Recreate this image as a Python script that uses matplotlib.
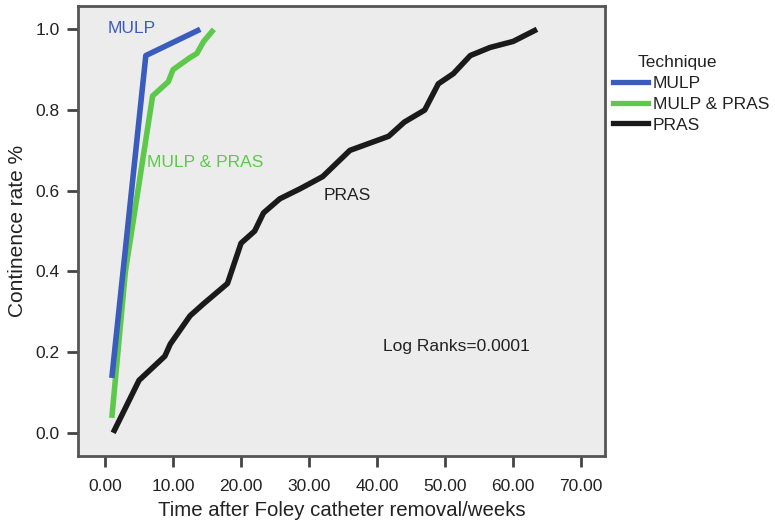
import matplotlib
matplotlib.use("Agg")
import matplotlib.pyplot as plt
from matplotlib.lines import Line2D

plt.rcParams['font.family'] = ['Liberation Sans', 'DejaVu Sans']

# Data
mulp_x = [1, 6, 14]
mulp_y = [0.136, 0.935, 1.0]

mp_x = [1, 3, 7, 9.3, 10, 12.5, 13.5, 14.5, 16]
mp_y = [0.037, 0.40, 0.835, 0.87, 0.90, 0.93, 0.94, 0.97, 1.0]

pras_x = [1.2, 5, 8.8, 9.6, 12.5, 14.5, 18, 20, 22, 23.3, 25.7, 28.7, 32,
          36, 41.7, 44, 47, 49, 51.2, 53.7, 56.6, 60, 63.5]
pras_y = [0.0, 0.13, 0.19, 0.22, 0.29, 0.32, 0.37, 0.47, 0.50, 0.545, 0.58,
          0.605, 0.635, 0.70, 0.735, 0.77, 0.80, 0.865, 0.89, 0.935, 0.955,
          0.97, 1.0]

series_names = ["MULP", "MULP & PRAS", "PRAS"]
colors = ["#3a5cbd", "#5dc94b", "#1a1a1a"]
xticks = [0, 10, 20, 30, 40, 50, 60, 70]
yticks = [0.0, 0.2, 0.4, 0.6, 0.8, 1.0]

fig = plt.figure(figsize=(7.75, 5.27), dpi=100)
ax = fig.add_axes([78/775, 1 - 456/527, (605-78)/775, (456-6)/527])
ax.set_facecolor("#ececec")

lw = 4.0
ax.plot(pras_x, pras_y, color=colors[2], lw=lw, solid_capstyle='butt')
ax.plot(mp_x, mp_y, color=colors[1], lw=lw, solid_capstyle='butt')
ax.plot(mulp_x, mulp_y, color=colors[0], lw=lw, solid_capstyle='butt')

ax.set_xlim(-3.97, 73.5)
ax.set_ylim(-0.0575, 1.0578)
ax.set_xticks(xticks)
ax.set_xticklabels([f"{v:.2f}" for v in xticks])
ax.set_yticks(yticks)
ax.set_yticklabels([f"{v:.1f}" for v in yticks])

for s in ax.spines.values():
    s.set_color("#555555")
    s.set_linewidth(2)

ax.tick_params(direction='out', length=8, width=2, color="#444444",
               labelsize=12.5, labelcolor="#222222")
ax.xaxis.set_tick_params(pad=8.5)
ax.yaxis.set_tick_params(pad=5)

ax.set_xlabel("Time after Foley catheter removal/weeks", fontsize=14.7,
              color="#222222", labelpad=5)
ax.set_ylabel("Continence rate %", fontsize=15, color="#222222", labelpad=6)

ann = 12.5
ax.text(0.45, 1.003, "MULP", color=colors[0], fontsize=ann, ha='left', va='center')
ax.text(6.2, 0.669, "MULP & PRAS", color=colors[1], fontsize=ann, ha='left', va='center')
ax.text(32.1, 0.587, "PRAS", color="#222222", fontsize=ann, ha='left', va='center')
ax.text(40.9, 0.213, "Log Ranks=0.0001", color="#222222", fontsize=ann, ha='left', va='center')

handles = [Line2D([0], [0], color=c, lw=3.8) for c in colors]
leg = fig.legend(handles, series_names, loc='upper left',
                 bbox_to_anchor=(613/775, 1 - 76/527), frameon=False,
                 fontsize=12.5, handlelength=2.0,
                 handletextpad=0.3, labelspacing=0.32, borderaxespad=0,
                 borderpad=0)
for t in leg.get_texts():
    t.set_color("#222222")
fig.text(638/775, 1 - 63/527, "Technique", fontsize=12.5, color="#222222",
         ha='left', va='center')

fig.savefig("out.png", dpi=100)
